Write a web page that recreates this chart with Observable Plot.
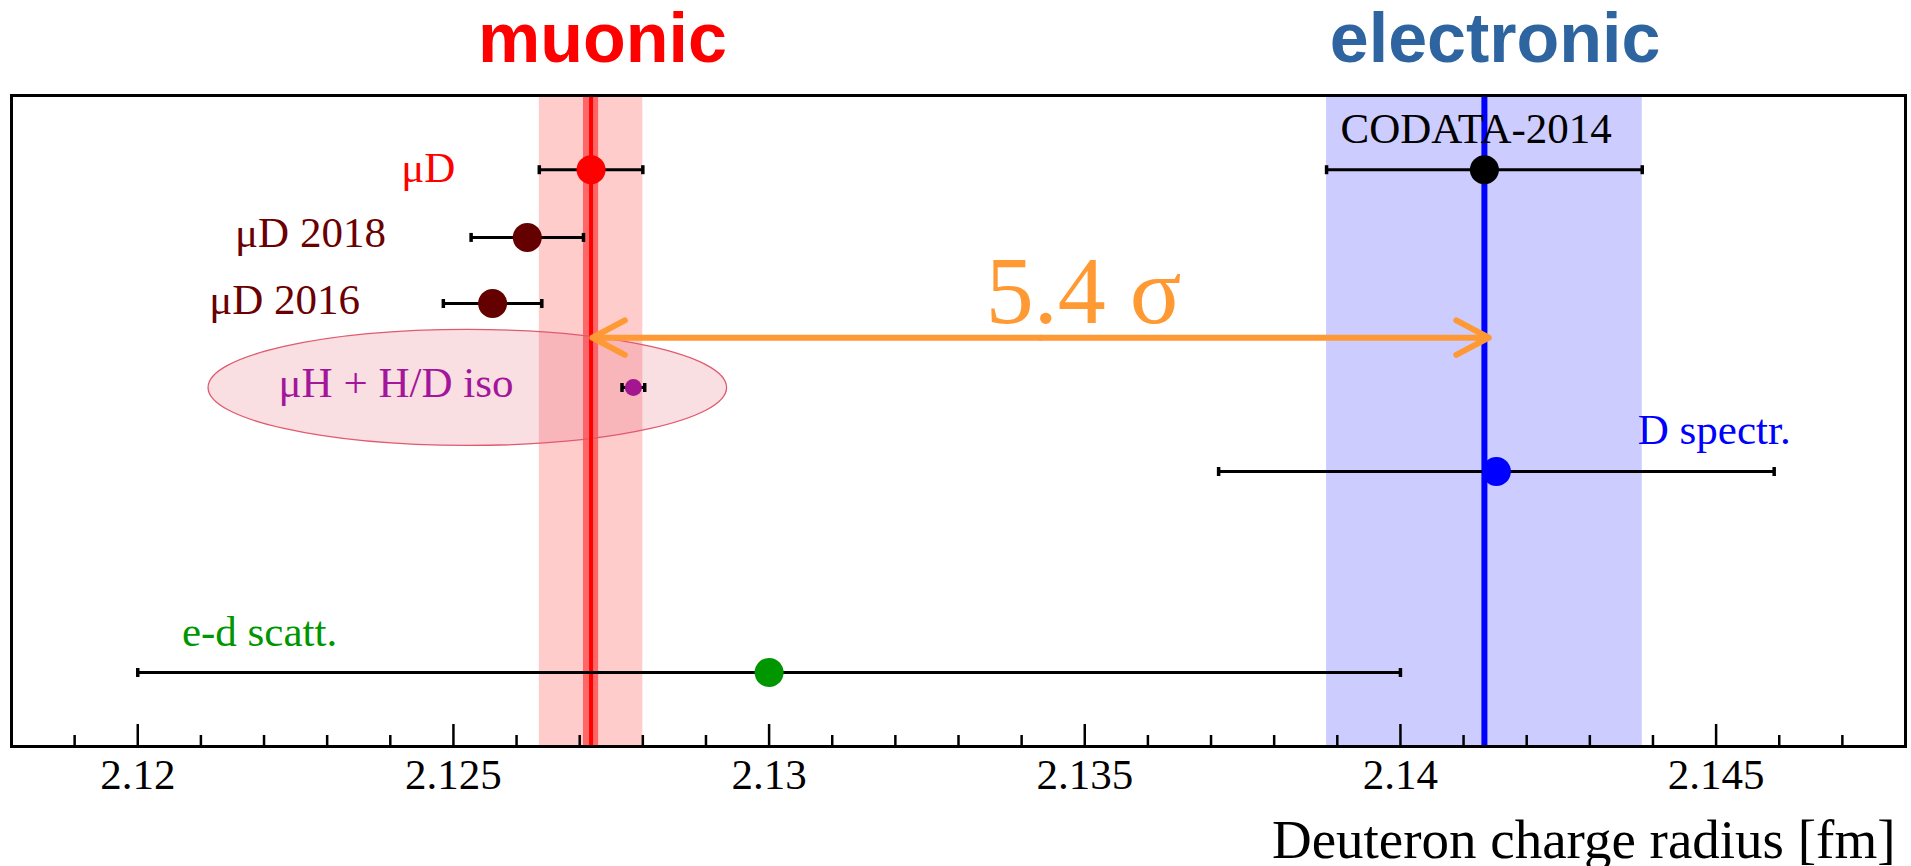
<!DOCTYPE html>
<html>
<head>
<meta charset="utf-8">
<script src="https://cdn.jsdelivr.net/npm/d3@7"></script>
<script src="https://cdn.jsdelivr.net/npm/@observablehq/plot@0.6"></script>
<style>
  html, body { margin: 0; padding: 0; background: #ffffff; }
  svg { display: block; }
</style>
</head>
<body>
<div id="chart"></div>
<script>
// ---------- data ----------
const names       = ["μD", "μD 2018", "μD 2016", "μH + H/D iso", "D spectr.", "e-d scatt.", "CODATA-2014"];
const radius      = [2.12718, 2.12617, 2.12562, 2.12785, 2.14152, 2.130, 2.14133];   // fm
const uncertainty = [0.00082, 0.00089, 0.00078, 0.00018, 0.0044, 0.010, 0.0025];     // fm
const rows        = [1.14, 2.18, 3.195, 4.485, 5.776, 8.863, 1.14];                   // vertical row coordinate

const bandNames = ["μD", "μD inner", "CODATA-2014"];
const bandLow   = [2.12636, 2.12706, 2.13883];
const bandHigh  = [2.12800, 2.12730, 2.14383];
const centralNames  = ["muonic", "electronic"];
const centralValues = [2.12718, 2.14133];

const arrowEnds = [2.1272, 2.1414];
const arrowRow  = 3.72;
const sigmaText = "5.4 σ";

const ellipseCenter = [2.12522];
const ellipseRow    = [4.485];

const tickValues      = [2.12, 2.125, 2.13, 2.135, 2.14, 2.145];
const tickLabels      = ["2.12", "2.125", "2.13", "2.135", "2.14", "2.145"];
const minorTickValues = [2.119, 2.121, 2.122, 2.123, 2.124, 2.126, 2.127, 2.128, 2.129,
                         2.131, 2.132, 2.133, 2.134, 2.136, 2.137, 2.138, 2.139,
                         2.141, 2.142, 2.143, 2.144, 2.146, 2.147];
const axisTitle = "Deuteron charge radius [fm]";

// ---------- layout & styles (kept apart from the data) ----------
const labelLayout = {
  "μD":           {x: 2.12503, row: 1.336, anchor: "end"},
  "μD 2018":      {x: 2.12393, row: 2.32,  anchor: "end"},
  "μD 2016":      {x: 2.12352, row: 3.349, anchor: "end"},
  "μH + H/D iso": {x: 2.12595, row: 4.624, anchor: "end"},
  "D spectr.":    {x: 2.14376, row: 5.346, anchor: "start"},
  "e-d scatt.":   {x: 2.1207,  row: 8.449, anchor: "start"},
  "CODATA-2014":  {x: 2.14120, row: 0.737, anchor: "middle"}
};
const titleX = {"muonic": 2.12736, "electronic": 2.1415};
const titleColor = {"muonic": "#ff0000", "electronic": "#2e64a0"};
const sigmaPos = {x: 2.13498, row: 3.502};

const pointColor = {
  "μD": "#ff0000", "μD 2018": "#650000", "μD 2016": "#650000",
  "μH + H/D iso": "#a3168f", "D spectr.": "#0000ff", "e-d scatt.": "#009600", "CODATA-2014": "#000000"
};
const pointRadius = {
  "μD": 14.5, "μD 2018": 14.5, "μD 2016": 14.5,
  "μH + H/D iso": 8.5, "D spectr.": 14.5, "e-d scatt.": 14.5, "CODATA-2014": 14.5
};
const textColor = {
  "μD": "#ff0000", "μD 2018": "#6a0000", "μD 2016": "#6a0000",
  "μH + H/D iso": "#a3169b", "D spectr.": "#0000ff", "e-d scatt.": "#009600", "CODATA-2014": "#000000"
};
const bandColor = {"μD": "#ffcccc", "μD inner": "#ff6666", "CODATA-2014": "#ccccff"};
const lineColor = {"muonic": "#ff0000", "electronic": "#0000ff"};
const lineWidth = {"muonic": 4, "electronic": 6};
const orange = "#ff9933";
const serif = "'Liberation Serif', 'Times New Roman', serif";
const sans  = "'Liberation Sans', Arial, sans-serif";

// ---------- records ----------
const measurements = names.map((name, i) => ({name, value: radius[i], err: uncertainty[i], row: rows[i]}));
const bands = bandNames.map((name, i) => ({name, lo: bandLow[i], hi: bandHigh[i]}));
const centrals = centralNames.map((name, i) => ({name, value: centralValues[i]}));
const arrowMid = (arrowEnds[0] + arrowEnds[1]) / 2;

// custom symbols
const capSymbol = {
  draw(ctx, size) { const h = Math.sqrt(size / Math.PI); ctx.moveTo(0, -h); ctx.lineTo(0, h); }
};
const ellipseAspect = 4.47;
const ellipseSymbol = {
  draw(ctx, size) {
    const ry = Math.sqrt(size / Math.PI), rx = ry * ellipseAspect, k = 0.5523;
    ctx.moveTo(rx, 0);
    ctx.bezierCurveTo(rx, k * ry, k * rx, ry, 0, ry);
    ctx.bezierCurveTo(-k * rx, ry, -rx, k * ry, -rx, 0);
    ctx.bezierCurveTo(-rx, -k * ry, -k * rx, -ry, 0, -ry);
    ctx.bezierCurveTo(k * rx, -ry, rx, -k * ry, rx, 0);
    ctx.closePath();
  }
};

const W = 1911, H = 866, MT = 95, MB = 120, ML = 11, MR = 6;
const innerH = H - MT - MB;

const chart = Plot.plot({
  width: W, height: H,
  marginTop: MT, marginBottom: MB, marginLeft: ML, marginRight: MR,
  style: {background: "#ffffff", overflow: "visible"},
  x: {domain: [2.118, 2.148], axis: null},
  y: {domain: [0, 10], reverse: true, axis: null},
  color: {type: "identity"},
  r: {type: "identity"},
  marks: [
    // uncertainty bands
    Plot.rect(bands, {x1: "lo", x2: "hi", fill: d => bandColor[d.name]}),
    // ellipse around μH + H/D iso
    Plot.dot(ellipseCenter, {x: d => d, y: (d, i) => ellipseRow[i], r: 58, symbol: ellipseSymbol,
      fill: "rgb(227,107,125)", fillOpacity: 0.22, stroke: "#e05a6e", strokeWidth: 1.3}),
    // central values
    Plot.ruleX(centrals, {x: "value", stroke: d => lineColor[d.name], strokeWidth: d => lineWidth[d.name]}),
    // 5.4 sigma double arrow
    Plot.arrow(arrowEnds, {x1: () => arrowMid, x2: d => d, y1: () => arrowRow, y2: () => arrowRow,
      stroke: orange, strokeWidth: 6, headLength: 9.2, headAngle: 56}),
    Plot.text([sigmaText], {x: () => sigmaPos.x, y: () => sigmaPos.row, text: d => d,
      fill: orange, fontSize: 96, fontFamily: serif, textAnchor: "middle", lineAnchor: "bottom"}),
    // error bars
    Plot.ruleY(measurements, {x1: d => d.value - d.err, x2: d => d.value + d.err, y: "row",
      stroke: "#000000", strokeWidth: 3}),
    Plot.dot(measurements, {x: d => d.value - d.err, y: "row", r: 4.5, symbol: capSymbol,
      fill: "none", stroke: "#000000", strokeWidth: 3.5}),
    Plot.dot(measurements, {x: d => d.value + d.err, y: "row", r: 4.5, symbol: capSymbol,
      fill: "none", stroke: "#000000", strokeWidth: 3.5}),
    // points
    Plot.dot(measurements, {x: "value", y: "row", r: d => pointRadius[d.name],
      fill: d => pointColor[d.name], stroke: "none"}),
    // labels
    ...["start", "middle", "end"].map(a =>
      Plot.text(measurements.filter(d => labelLayout[d.name].anchor === a), {
        x: d => labelLayout[d.name].x, y: d => labelLayout[d.name].row, text: "name",
        fill: d => textColor[d.name], fontSize: 43, fontFamily: serif,
        textAnchor: a, lineAnchor: "bottom"})),
    // titles above the frame
    Plot.text(centralNames, {x: d => titleX[d], frameAnchor: "top", dy: -33.5, text: d => d,
      fill: d => titleColor[d], fontSize: 70, fontWeight: "bold", fontFamily: sans,
      textAnchor: "middle", lineAnchor: "bottom"}),
    // frame and ticks
    Plot.frame({stroke: "#000000", strokeWidth: 3}),
    Plot.tickX(tickValues, {x: d => d, insetTop: innerH - 22, stroke: "#000000", strokeWidth: 2.5}),
    Plot.tickX(minorTickValues, {x: d => d, insetTop: innerH - 11, stroke: "#000000", strokeWidth: 2.5}),
    Plot.axisX(tickValues, {anchor: "bottom", tickSize: 0, tickPadding: 12,
      tickFormat: d => tickLabels[tickValues.indexOf(d)], fontSize: 43, fontFamily: serif,
      fill: "#000000", label: null}),
    // axis title
    Plot.text([axisTitle], {frameAnchor: "bottom-right", text: d => d, dx: -10, dy: 111,
      textAnchor: "end", lineAnchor: "bottom", fontSize: 55, fontFamily: serif, fill: "#000000"})
  ]
});
document.getElementById("chart").appendChild(chart);
</script>
</body>
</html>
